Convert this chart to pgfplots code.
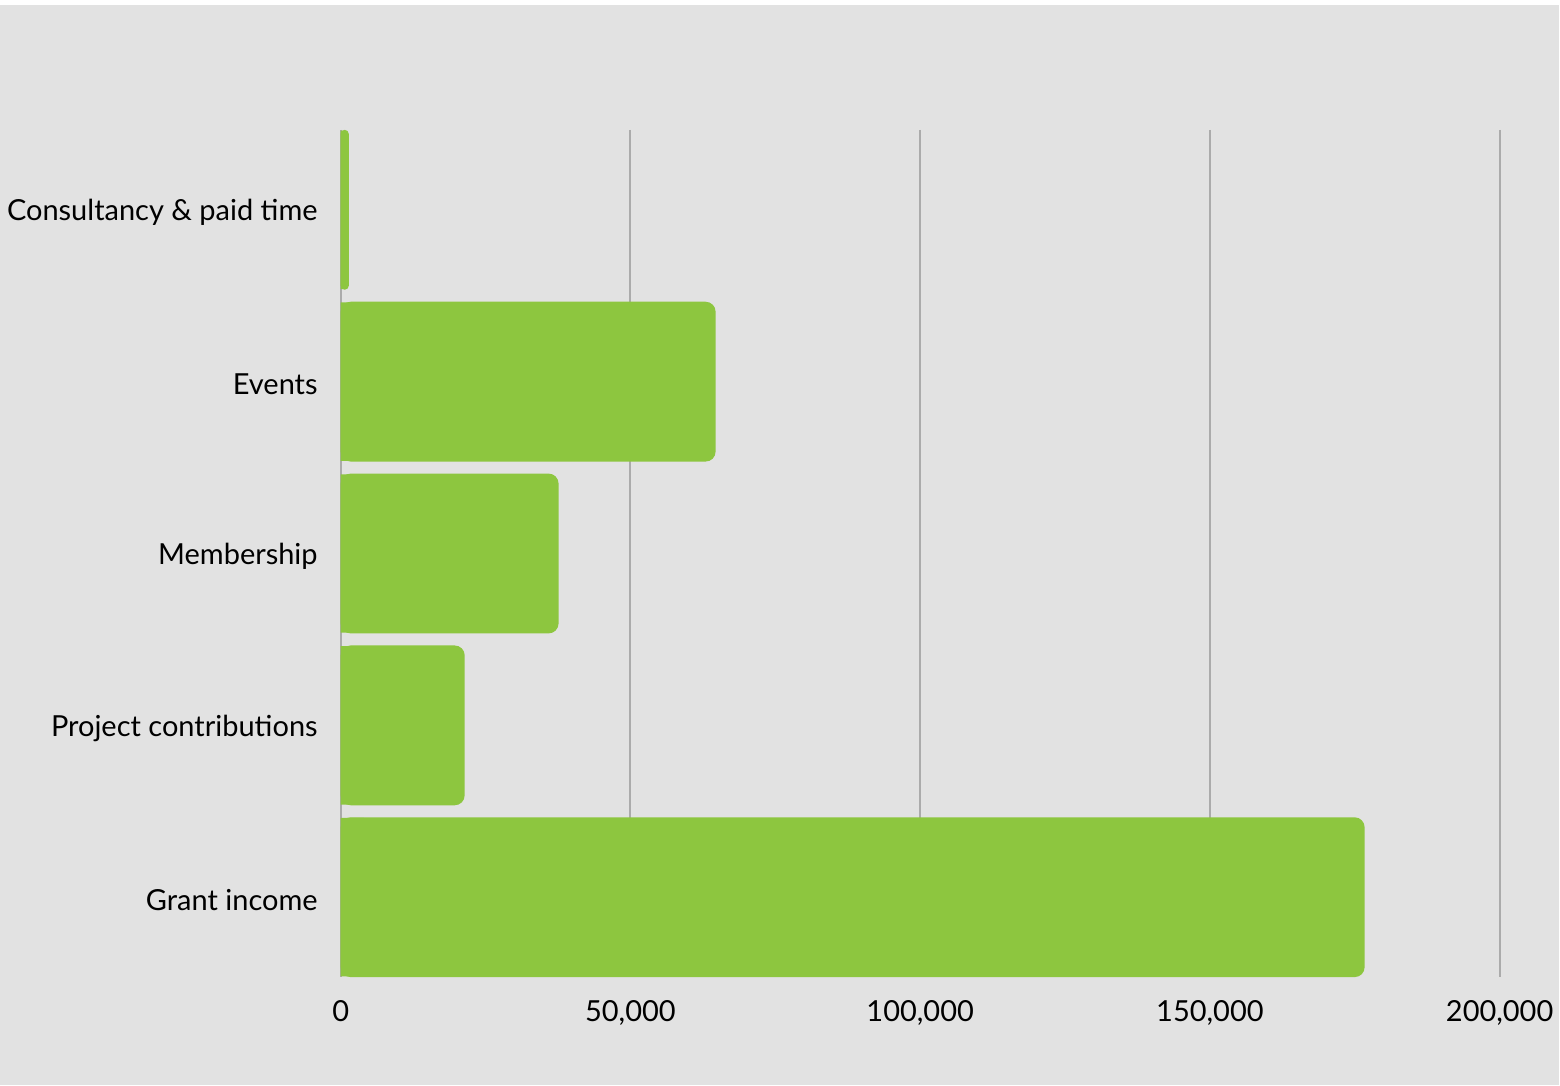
\documentclass[border=0pt]{standalone}
\usepackage{pgfplots}
\pgfplotsset{compat=1.18}
\usepackage{pgfplotstable}
\usepackage{fontspec}
\setmainfont{Lato}

\definecolor{bg}{HTML}{E2E2E2}
\definecolor{bargreen}{HTML}{8DC63F}
\definecolor{gridgray}{HTML}{ABABAB}

% income by source (row = position from top)
\pgfplotstableread{
value row
1400   0
64700  1
37600  2
21400  3
176700 4
}\income

\begin{document}
\begin{tikzpicture}
\fill[white] (-170.5pt,-54pt) rectangle (609.5pt,489pt);
\fill[bg] (-170.5pt,-54pt) rectangle (609.5pt,486.5pt);
\begin{axis}[
  at={(0,0)}, anchor=south west,
  scale only axis, width=580pt, height=424pt,
  xmin=0, xmax=200000,
  ymin=-0.465, ymax=4.465, y dir=reverse,
  xtick={0,50000,100000,150000,200000},
  ytick={0,1,2,3,4},
  yticklabels={Consultancy \& paid time, Events, Membership, Project contributions, {Grant income\hspace{4pt}}},
  scaled x ticks=false,
  /pgf/number format/.cd, fixed, precision=0, 1000 sep={,}, assume math mode=true, /pgfplots/.cd,
  axis lines*=left,
  x axis line style={draw=none},
  y axis line style={draw=gridgray, line width=1pt, -},
  major tick length=0pt,
  xmajorgrids,
  grid style={gridgray, line width=1pt},
  tick label style={font=\fontsize{14.5}{17}\selectfont, text=black},
  xticklabel style={yshift=-8pt},
  yticklabel style={xshift=-8pt, yshift=-1.5pt},
  every axis plot/.append style={xbar, fill=bargreen, draw=none},
]
% bars with rounded ends
\addplot[bar width=0.93, rounded corners=5pt, restrict x to domain=5000:1000000]
  table[x=value, y=row] {\income};
\addplot[bar width=0.93, rounded corners=2pt, restrict x to domain=0:5000]
  table[x=value, y=row] {\income};
% square left ends (a hair thinner, so no seam shows on the edges)
\addplot[bar width=0.922, x filter/.expression={min(x/2,4000)}]
  table[x=value, y=row] {\income};
\end{axis}
\end{tikzpicture}
\end{document}
